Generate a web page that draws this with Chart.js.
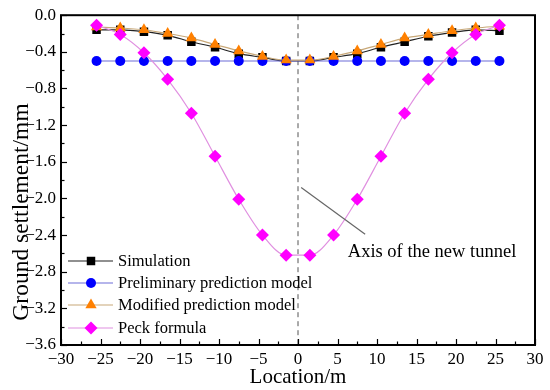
<!DOCTYPE html>
<html lang="en">
<head>
    <meta charset="UTF-8">
    <script src="https://cdn.jsdelivr.net/npm/chart.js"></script>
    <title>Ground settlement</title>
    <style>
        body {
            margin: 0;
            background-color: #ffffff;
        }

        #chart_container {
            width: 550px;
            height: 390px;
        }
    </style>
</head>
<body>
    <div id="chart_container">
        <canvas id="settlement_chart" width="550" height="390"></canvas>
    </div>

    <script>
        // Data
        const locations = [-25.5, -22.5, -19.5, -16.5, -13.5, -10.5, -7.5, -4.5, -1.5, 1.5, 4.5, 7.5, 10.5, 13.5, 16.5, 19.5, 22.5, 25.5];
        const simulation = [-0.16, -0.16, -0.18, -0.22, -0.29, -0.35, -0.42, -0.46, -0.50, -0.50, -0.46, -0.42, -0.35, -0.29, -0.23, -0.19, -0.16, -0.17];
        const preliminary = [-0.50, -0.50, -0.50, -0.50, -0.50, -0.50, -0.50, -0.50, -0.50, -0.50, -0.50, -0.50, -0.50, -0.50, -0.50, -0.50, -0.50, -0.50];
        const modified = [-0.13, -0.14, -0.16, -0.20, -0.25, -0.32, -0.39, -0.45, -0.49, -0.49, -0.45, -0.39, -0.32, -0.25, -0.21, -0.17, -0.14, -0.12];
        const peck = [-0.11, -0.21, -0.41, -0.70, -1.07, -1.54, -2.01, -2.40, -2.62, -2.62, -2.40, -2.01, -1.54, -1.07, -0.70, -0.41, -0.21, -0.11];

        const xTicks = [-30, -25, -20, -15, -10, -5, 0, 5, 10, 15, 20, 25, 30];
        const yTicks = [0, -0.4, -0.8, -1.2, -1.6, -2.0, -2.4, -2.8, -3.2, -3.6];

        const seriesNames = ['Simulation', 'Preliminary prediction model', 'Modified prediction model', 'Peck formula'];

        const FONT = '"Liberation Serif", "Times New Roman", serif';

        function toPoints(values) {
            return values.map((v, i) => ({ x: locations[i], y: v }));
        }

        function minus(text) {
            return String(text).replace('-', '\u2212');
        }

        const series = [
            { data: simulation, line: '#222222', fill: '#000000', style: 'rect', radius: 6, order: 4 },
            { data: preliminary, line: '#6c6cd8', fill: '#0000ff', style: 'circle', radius: 5, order: 3 },
            { data: modified, line: '#c8a878', fill: '#ff8000', style: 'triangle', radius: 6.5, order: 2 },
            { data: peck, line: '#e090e0', fill: '#ff00ff', style: 'rectRot', radius: 6.5, order: 1 }
        ];

        const datasets = series.map((s, i) => ({
            label: seriesNames[i],
            data: toPoints(s.data),
            borderColor: s.line,
            borderWidth: 1.2,
            backgroundColor: s.fill,
            pointBackgroundColor: s.fill,
            pointBorderColor: s.fill,
            pointBorderWidth: 0,
            pointStyle: s.style,
            pointRadius: s.radius,
            cubicInterpolationMode: 'monotone',
            order: s.order
        }));

        // Frame, inward ticks, tunnel axis, y title and annotation
        const decorations = {
            id: 'decorations',
            beforeDatasetsDraw(chart) {
                const ctx = chart.ctx;
                const x = chart.scales.x;
                const area = chart.chartArea;
                ctx.save();
                ctx.strokeStyle = '#555555';
                ctx.lineWidth = 1;
                ctx.setLineDash([5, 4]);
                ctx.beginPath();
                ctx.moveTo(x.getPixelForValue(0), area.top);
                ctx.lineTo(x.getPixelForValue(0), area.bottom);
                ctx.stroke();
                ctx.restore();
            },
            afterDraw(chart) {
                const ctx = chart.ctx;
                const x = chart.scales.x, y = chart.scales.y;
                const area = chart.chartArea;
                ctx.save();
                ctx.strokeStyle = '#000000';
                ctx.lineWidth = 1.2;
                // x ticks pointing up
                for (let v = -30; v <= 30; v += 2.5) {
                    const px = Math.round(x.getPixelForValue(v)) + 0.5;
                    const len = (v % 5 === 0) ? 6 : 3.5;
                    ctx.beginPath();
                    ctx.moveTo(px, area.bottom);
                    ctx.lineTo(px, area.bottom - len);
                    ctx.stroke();
                }
                // y ticks pointing right
                for (let k = 0; k <= 18; k++) {
                    const v = -0.2 * k;
                    const py = Math.round(y.getPixelForValue(v)) + 0.5;
                    const len = (k % 2 === 0) ? 6 : 3.5;
                    ctx.beginPath();
                    ctx.moveTo(area.left, py);
                    ctx.lineTo(area.left + len, py);
                    ctx.stroke();
                }
                // frame
                ctx.lineWidth = 2;
                ctx.strokeRect(area.left, area.top, area.right - area.left, area.bottom - area.top);

                // y axis title, sitting a bit below the middle like the original
                ctx.save();
                ctx.translate(22, 212);
                ctx.rotate(-Math.PI / 2);
                ctx.fillStyle = '#000000';
                ctx.font = '23.5px ' + FONT;
                ctx.textAlign = 'center';
                ctx.textBaseline = 'middle';
                ctx.fillText('Ground settlement/mm', 0, 0);
                ctx.restore();

                // annotation for the tunnel axis
                ctx.strokeStyle = '#666666';
                ctx.lineWidth = 1.2;
                ctx.beginPath();
                ctx.moveTo(x.getPixelForValue(0.4), y.getPixelForValue(-1.88));
                ctx.lineTo(x.getPixelForValue(8.5), y.getPixelForValue(-2.39));
                ctx.stroke();
                ctx.fillStyle = '#000000';
                ctx.font = '18.5px ' + FONT;
                ctx.textAlign = 'left';
                ctx.textBaseline = 'middle';
                ctx.fillText('Axis of the new tunnel', x.getPixelForValue(6.3), y.getPixelForValue(-2.59));

                // legend in the lower left corner
                ctx.font = '16.5px ' + FONT;
                const rows = [261, 283, 305, 328];
                series.forEach((s, i) => {
                    const ly = rows[i];
                    const lx = area.left;
                    ctx.strokeStyle = s.line;
                    ctx.lineWidth = 1.2;
                    ctx.beginPath();
                    ctx.moveTo(lx + 7, ly);
                    ctx.lineTo(lx + 52, ly);
                    ctx.stroke();
                    ctx.fillStyle = s.fill;
                    ctx.strokeStyle = s.fill;
                    Chart.helpers.drawPoint(ctx, { pointStyle: s.style, radius: s.radius, rotation: 0, borderWidth: 0 }, lx + 30, ly);
                    ctx.fillStyle = '#000000';
                    ctx.fillText(seriesNames[i], lx + 57, ly + 1);
                });
                ctx.restore();
            }
        };

        const ctx = document.getElementById('settlement_chart').getContext('2d');
        const settlementChart = new Chart(ctx, {
            type: 'line',
            data: { datasets: datasets },
            options: {
                responsive: false,
                devicePixelRatio: 1,
                animation: false,
                layout: { padding: { top: 12, right: 15, left: 0, bottom: 0 } },
                plugins: {
                    legend: { display: false },
                    tooltip: { enabled: false }
                },
                scales: {
                    x: {
                        type: 'linear',
                        min: -30,
                        max: 30,
                        afterBuildTicks: (scale) => { scale.ticks = xTicks.map(v => ({ value: v })); },
                        afterFit: (scale) => { scale.height = 45; },
                        grid: { display: false, drawTicks: false },
                        border: { display: false },
                        ticks: {
                            color: '#000000',
                            padding: 4,
                            maxRotation: 0,
                            font: { family: FONT, size: 17 },
                            callback: (v) => minus(v)
                        },
                        title: {
                            display: true,
                            text: 'Location/m',
                            color: '#000000',
                            padding: { top: -4, bottom: 0 },
                            font: { family: FONT, size: 21 }
                        }
                    },
                    y: {
                        type: 'linear',
                        min: -3.6,
                        max: 0,
                        afterBuildTicks: (scale) => { scale.ticks = yTicks.map(v => ({ value: v })); },
                        afterFit: (scale) => { scale.width = 61; },
                        grid: { display: false, drawTicks: false },
                        border: { display: false },
                        ticks: {
                            color: '#000000',
                            padding: 5,
                            font: { family: FONT, size: 17 },
                            callback: (v) => minus(Number(v).toFixed(1))
                        },
                        title: { display: false }
                    }
                }
            },
            plugins: [decorations]
        });
    </script>
</body>
</html>
